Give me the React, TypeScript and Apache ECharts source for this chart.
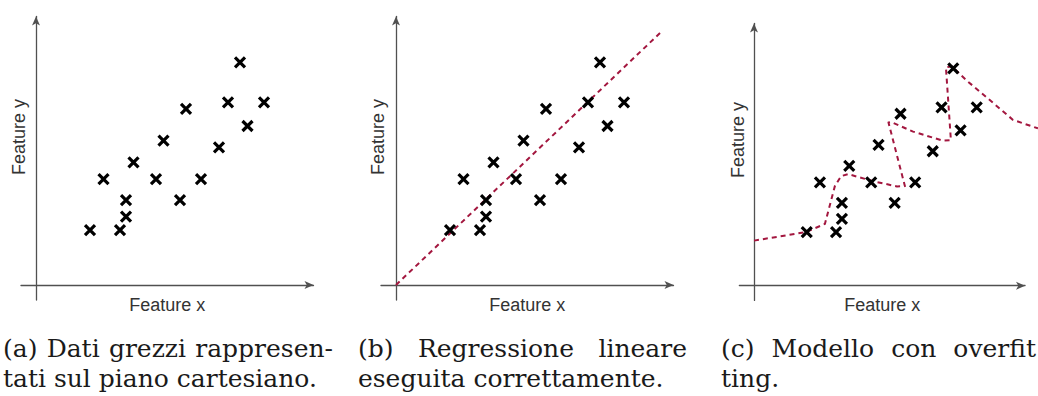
import React, { useEffect, useRef } from "react";
import * as echarts from "echarts";

// Data (abstract feature units)
const pointX = [18, 28, 30, 30, 22.5, 32.5, 40, 42.5, 48, 50, 55, 61, 64, 68, 70.5, 76];
const pointY = [18.3, 18.3, 22.8, 28.3, 35.3, 40.9, 35.3, 48.1, 28.3, 58.7, 35.3, 45.9, 60.9, 74.2, 53, 60.9];
const linearX = [0, 88];
const linearY = [0, 84];
const overfitX = [0, 17.7, 24.2, 27.6, 29.7, 32.1, 41, 48.8, 51.5, 45.9, 46.8, 54.3, 64.5, 67.2, 65.5, 67.6, 72.4, 81.6, 88.4, 96.9];
const overfitY = [15.4, 18.3, 21.1, 34, 37.4, 38.1, 35.6, 33.9, 34, 55.7, 55.9, 52.6, 49.5, 49.7, 74.6, 74.8, 70.2, 62.4, 56.6, 53.7];
const axisNameX = "Feature x";
const axisNameY = "Feature y";
const captionA = ["(a) Dati grezzi rappresen-", "tati sul piano cartesiano."];
const captionB = ["(b) Regressione lineare", "eseguita correttamente."];
const captionC = ["(c) Modello con overfit", "ting."];

const X_MIN = -5, X_MAX = 92.5, Y_MIN = -5, Y_MAX = 89.5;
const X_MAX_CURVE = 96.9;

const panels = [
  { left: 21, top: 16.5, width: 292.5, height: 283.5, yNameX: 19, yNameY: 137, col: 3, colW: 330, caption: captionA },
  { left: 381, top: 16.5, width: 292.5, height: 283.5, yNameX: 378, yNameY: 137, col: 358, colW: 329, caption: captionB },
  { left: 739.35, top: 23.5, width: 285.7, height: 276.9, yNameX: 738, yNameY: 140, col: 721, colW: 315, caption: captionC },
];
const SCALE_C = 2.93;

const RED = "#a3173f";
const AXIS = "#505050";
const SERIF = '"DejaVu Serif", serif';
const SANS = '"Liberation Sans", Arial, sans-serif';
const CAP_SIZE = 25;
const LINE1_Y = 348;
const LINE2_Y = 378;

function zip(xs: number[], ys: number[]) {
  return xs.map((x, i) => [x, ys[i]]);
}

export default function App() {
  const ref = useRef<HTMLDivElement>(null);
  useEffect(() => {
    if (!ref.current) return;
    const chart = echarts.init(ref.current, undefined, { renderer: "svg" });
    const canvas = document.createElement("canvas");
    const ctx = canvas.getContext("2d")!;
    ctx.font = `${CAP_SIZE}px ${SERIF}`;

    const grid: any[] = panels.map((p) => ({ left: p.left, top: p.top, width: p.width, height: p.height }));
    // hidden grid sharing panel (c)'s scale, wider so the curve runs to the page edge
    const pc = panels[2];
    grid.push({ left: pc.left, top: pc.top, width: (X_MAX_CURVE - X_MIN) * SCALE_C, height: pc.height });

    const xAxis: any[] = panels.map((_, i) => ({
      gridIndex: i,
      type: "value",
      min: X_MIN,
      max: X_MAX,
      axisLine: { onZero: true, lineStyle: { color: AXIS, width: 1.3 }, symbol: ["none", "arrow"], symbolSize: [6, 9] },
      axisTick: { show: false },
      axisLabel: { show: false },
      splitLine: { show: false },
      name: axisNameX,
      nameLocation: "middle",
      nameGap: -4,
      nameTextStyle: { color: "#333", fontFamily: SANS, fontSize: 18, verticalAlign: "top" },
    }));
    xAxis.push({ gridIndex: 3, type: "value", min: X_MIN, max: X_MAX_CURVE, show: false });
    const yAxis: any[] = panels.map((_, i) => ({
      gridIndex: i,
      type: "value",
      min: Y_MIN,
      max: Y_MAX,
      axisLine: { onZero: true, lineStyle: { color: AXIS, width: 1.3 }, symbol: ["none", "arrow"], symbolSize: [6, 9] },
      axisTick: { show: false },
      axisLabel: { show: false },
      splitLine: { show: false },
    }));
    yAxis.push({ gridIndex: 3, type: "value", min: Y_MIN, max: Y_MAX, show: false });

    const cross = "path://M0,0L10,10M10,0L0,10";
    const scatter = (i: number) => ({
      type: "scatter",
      xAxisIndex: i,
      yAxisIndex: i,
      data: zip(pointX, pointY),
      symbol: cross,
      symbolSize: 10,
      itemStyle: { color: "transparent", borderColor: "#000", borderWidth: 3.2, opacity: 1 },
      z: 5,
      silent: true,
    });
    const series: any[] = [
      scatter(0),
      {
        type: "line",
        xAxisIndex: 1,
        yAxisIndex: 1,
        data: zip(linearX, linearY),
        symbol: "none",
        lineStyle: { color: RED, width: 2, type: [5, 4] },
        z: 3,
      },
      scatter(1),
      {
        type: "line",
        xAxisIndex: 3,
        yAxisIndex: 3,
        data: zip(overfitX, overfitY),
        symbol: "none",
        clip: false,
        lineStyle: { color: RED, width: 2, type: [5, 4], join: "round" },
        z: 3,
      },
      scatter(2),
    ];

    const graphic: any[] = [];
    panels.forEach((p) => {
      graphic.push({
        type: "text",
        x: p.yNameX,
        y: p.yNameY,
        rotation: Math.PI / 2,
        style: { text: axisNameY, font: `18px ${SANS}`, fill: "#333", align: "center", verticalAlign: "middle" },
      });
      // first line: justified word by word
      const words = p.caption[0].split(" ");
      const widths = words.map((w) => ctx.measureText(w).width);
      const total = widths.reduce((a, b) => a + b, 0);
      const gap = (p.colW - total) / (words.length - 1);
      let xPos = p.col;
      words.forEach((w, k) => {
        graphic.push({
          type: "text",
          x: xPos,
          y: LINE1_Y,
          style: { text: w, font: `${CAP_SIZE}px ${SERIF}`, fill: "#1a1a1a", align: "left", verticalAlign: "middle" },
        });
        xPos += widths[k] + gap;
      });
      graphic.push({
        type: "text",
        x: p.col,
        y: LINE2_Y,
        style: { text: p.caption[1], font: `${CAP_SIZE}px ${SERIF}`, fill: "#1a1a1a", align: "left", verticalAlign: "middle" },
      });
    });

    chart.setOption({
      animation: false,
      backgroundColor: "#fff",
      grid,
      xAxis,
      yAxis,
      series,
      graphic,
    } as any);
    return () => chart.dispose();
  }, []);
  return <div ref={ref} style={{ position: "absolute", left: 0, top: 0, width: 1038, height: 396 }} />;
}
